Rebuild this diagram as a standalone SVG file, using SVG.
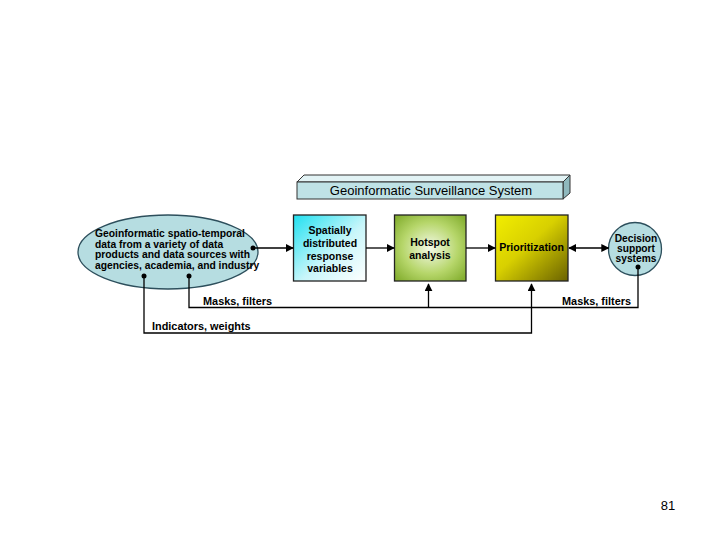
<svg xmlns="http://www.w3.org/2000/svg" width="720" height="540" viewBox="0 0 720 540">
<style>
.t{font-family:"Liberation Sans",Arial,sans-serif;font-weight:bold;fill:#000}
.c{stroke:#000;stroke-width:1.3;fill:none}
.box{stroke:#222;stroke-width:1.3}
</style>
<defs>
<marker id="ah" viewBox="0 0 10 10" refX="9" refY="5" markerWidth="8" markerHeight="8" markerUnits="userSpaceOnUse" orient="auto-start-reverse"><path d="M0,0L10,5L0,10z" fill="#000"/></marker>
<linearGradient id="gcyan" x1="0" y1="0" x2="1" y2="1"><stop offset="0" stop-color="#20e0f0"/><stop offset="0.55" stop-color="#c8f6fa"/><stop offset="1" stop-color="#ffffff"/></linearGradient>
<radialGradient id="ggreen" cx="0.5" cy="0.5" r="0.65"><stop offset="0" stop-color="#f4f9e8"/><stop offset="0.6" stop-color="#b6d66a"/><stop offset="1" stop-color="#86b032"/></radialGradient>
<linearGradient id="gyel" x1="0" y1="0" x2="1" y2="1"><stop offset="0" stop-color="#f2ee00"/><stop offset="0.45" stop-color="#d8d000"/><stop offset="1" stop-color="#6a6200"/></linearGradient>
</defs>
<rect width="720" height="540" fill="#fff"/>
<g id="banner">
<polygon points="297,182 304,175 570,175 563,182" fill="#e2f3f5" stroke="#333" stroke-width="1"/>
<polygon points="563,182 570,175 570,193 563,199" fill="#8fb8bd" stroke="#333" stroke-width="1"/>
<rect x="297" y="182" width="266" height="17" fill="#bfe2e6" stroke="#333" stroke-width="1"/>
<text x="431" y="195" font-family="Liberation Sans, Arial, sans-serif" font-size="13" text-anchor="middle">Geoinformatic Surveillance System</text>
</g>
<g id="data">
<ellipse cx="168" cy="252" rx="90" ry="37" fill="#b6dde1" stroke="#2d4f5c" stroke-width="1.3"/>
<text class="t" font-size="10.3"><tspan x="95" y="237">Geoinformatic spatio-temporal</tspan><tspan x="95" y="247.5">data from a variety of data</tspan><tspan x="95" y="258">products and data sources with</tspan><tspan x="95" y="268.5">agencies, academia, and industry</tspan></text>
</g>
<g id="spatial">
<rect class="box" x="293.5" y="215" width="72.5" height="66" fill="url(#gcyan)"/>
<text class="t" font-size="10.5" text-anchor="middle"><tspan x="330" y="234">Spatially</tspan><tspan x="330" y="247">distributed</tspan><tspan x="330" y="260">response</tspan><tspan x="330" y="272">variables</tspan></text>
</g>
<g id="hotspot">
<rect class="box" x="394.5" y="215" width="71.5" height="66" fill="url(#ggreen)"/>
<text class="t" font-size="10.5" text-anchor="middle"><tspan x="430" y="246">Hotspot</tspan><tspan x="430" y="259">analysis</tspan></text>
</g>
<g id="prior">
<rect class="box" x="495.5" y="215" width="72.5" height="66" fill="url(#gyel)"/>
<text class="t" font-size="10.6" text-anchor="middle" x="531.5" y="251">Prioritization</text>
</g>
<g id="decision">
<circle cx="635" cy="249" r="26.5" fill="#b6dde1" stroke="#2d4f5c" stroke-width="1.3"/>
<text class="t" font-size="10.2" text-anchor="middle"><tspan x="636" y="242">Decision</tspan><tspan x="636" y="252">support</tspan><tspan x="636" y="262">systems</tspan></text>
</g>
<g id="connectors">
<line class="c" x1="253" y1="248" x2="293" y2="248" marker-end="url(#ah)"/>
<line class="c" x1="366" y1="248" x2="394" y2="248" marker-end="url(#ah)"/>
<line class="c" x1="466" y1="248" x2="495" y2="248" marker-end="url(#ah)"/>
<line class="c" x1="569" y1="248" x2="608.5" y2="248" marker-start="url(#ah)" marker-end="url(#ah)"/>
<polyline class="c" points="189,276 189,307.5 638,307.5 638,267"/>
<polyline class="c" points="144,276 144,333 531.5,333 531.5,284" marker-end="url(#ah)"/>
<line class="c" x1="428.5" y1="307.5" x2="428.5" y2="284" marker-end="url(#ah)"/>
<circle cx="253" cy="248" r="2.5" fill="#000"/>
<circle cx="144" cy="276" r="2.5" fill="#000"/>
<circle cx="189" cy="276" r="2.5" fill="#000"/>
<circle cx="638" cy="267" r="2.5" fill="#000"/>
<text class="t" font-size="10.9" x="203" y="305">Masks, filters</text>
<text class="t" font-size="10.9" x="562" y="305">Masks, filters</text>
<text class="t" font-size="10.9" x="152" y="330">Indicators, weights</text>
</g>
<text x="668" y="510" font-family="Liberation Sans, Arial, sans-serif" font-size="13" text-anchor="middle">81</text>
</svg>
